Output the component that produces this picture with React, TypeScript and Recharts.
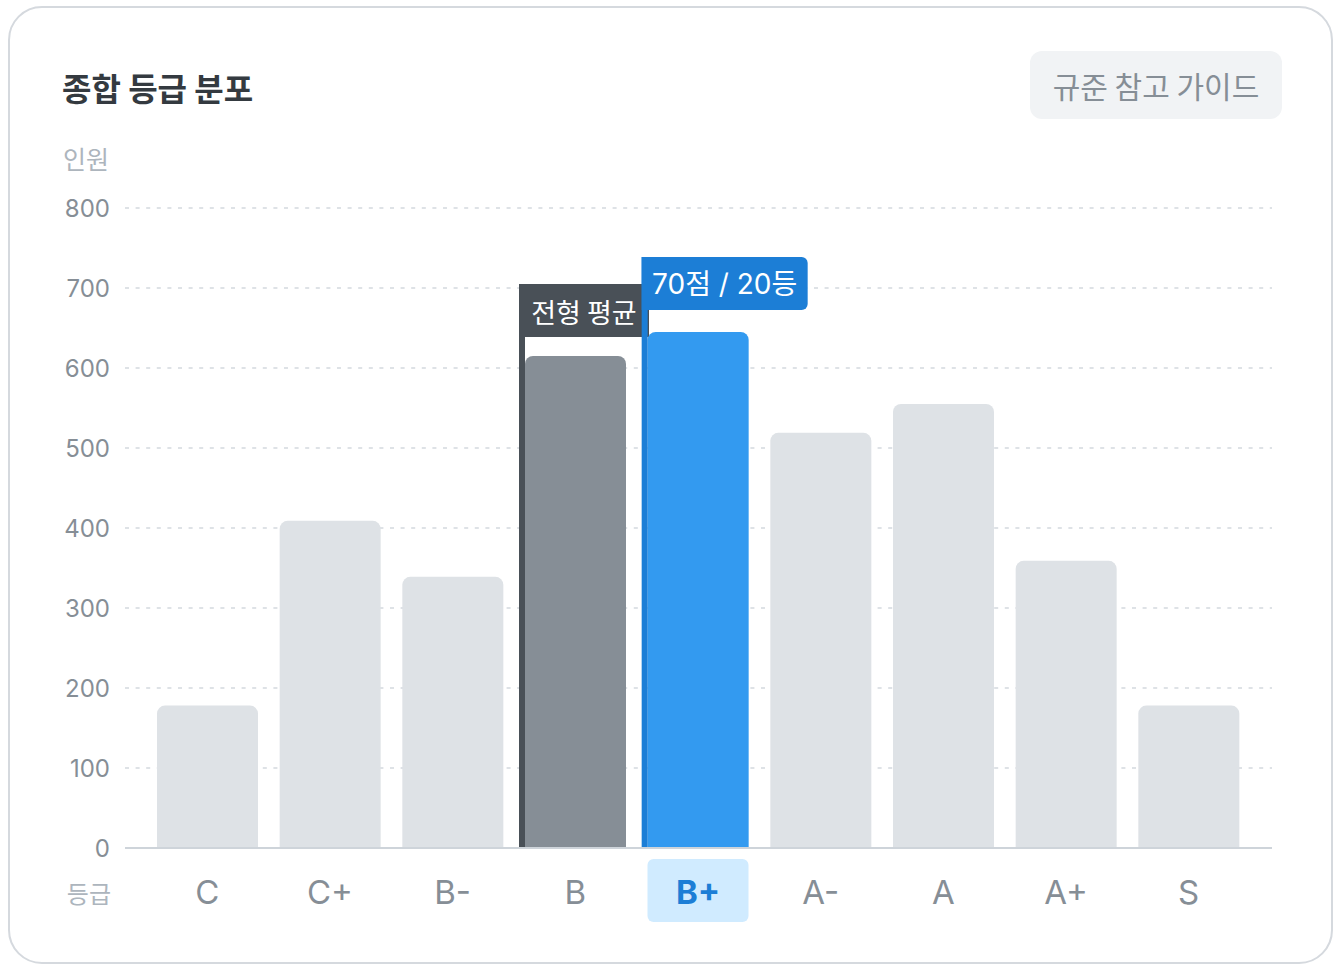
import React from 'react';
import { BarChart, Bar, XAxis, YAxis, CartesianGrid, Rectangle } from 'recharts';

const grades = ['C', 'C+', 'B-', 'B', 'B+', 'A-', 'A', 'A+', 'S'];
const counts = [178, 409, 339, 615, 645, 519, 555, 359, 178];
const yTicks = [0, 100, 200, 300, 400, 500, 600, 700, 800];
const avgGrade = 'B';
const myGrade = 'B+';
const avgLabel = '전형 평균';
const myLabel = '70점 / 20등';
const title = '종합 등급 분포';
const buttonLabel = '규준 참고 가이드';
const yAxisTitle = '인원';
const xAxisTitle = '등급';

const data = grades.map((g, i) => ({ grade: g, count: counts[i] }));

const FONT = "Inter, 'Noto Sans CJK KR', sans-serif";
const KFONT = "'Noto Sans CJK KR', Inter, sans-serif";

function BarShape(props: any) {
  const { x, y, width, height, payload } = props;
  const bottom = y + height;
  let fill = '#dee2e6';
  let marker: any = null;
  if (payload.grade === avgGrade) {
    fill = '#868e96';
    const boxBottom = y - 19;
    const boxTop = boxBottom - 53;
    marker = (
      <g>
        <rect x={x - 6} y={boxTop} width={6} height={bottom - boxTop} fill="#495057" />
        <rect x={x - 6} y={boxTop} width={130} height={53} fill="#495057" />
        <text x={x - 6 + 65} y={boxTop + 27} textAnchor="middle" dominantBaseline="central" fill="#ffffff" fontSize={27} fontFamily={KFONT}>{avgLabel}</text>
      </g>
    );
  } else if (payload.grade === myGrade) {
    fill = '#339af0';
    const boxBottom = y - 22;
    const boxTop = boxBottom - 53;
    marker = (
      <g>
        <rect x={x - 6} y={boxTop} width={6} height={bottom - boxTop} fill="#1c7ed6" />
        <Rectangle x={x - 6} y={boxTop} width={166} height={53} radius={[0, 6, 6, 0]} fill="#1c7ed6" />
        <text x={x - 6 + 83} y={boxTop + 27} textAnchor="middle" dominantBaseline="central" fill="#ffffff" fontSize={28} fontFamily={FONT}>{myLabel}</text>
      </g>
    );
  }
  return (
    <g>
      <Rectangle x={x} y={y} width={width} height={height} radius={[8, 8, 0, 0]} fill={fill} />
      {marker}
    </g>
  );
}

function XTick(props: any) {
  const { x, y, payload } = props;
  const active = payload.value === myGrade;
  return (
    <g>
      {active && <rect x={x - 50.5} y={y + 11} width={101} height={63} rx={6} fill="#d0ebff" />}
      <text x={x} y={y + 44} textAnchor="middle" dominantBaseline="central" fontSize={33}
        fontWeight={active ? 700 : 400} fill={active ? '#1c7ed6' : '#868e96'} fontFamily={FONT}>
        {payload.value}
      </text>
    </g>
  );
}

export default function App() {
  return (
    <div style={{ position: 'absolute', left: 0, top: 0, width: 1334, height: 965, background: '#ffffff' }}>
      <div style={{ position: 'absolute', left: 8, top: 6, width: 1325, height: 958, border: '2px solid #d5d9de', borderRadius: 34, boxSizing: 'border-box', background: '#fff' }} />
      <div style={{ position: 'absolute', left: 0, top: 0 }}>
        <BarChart width={1334} height={965} data={data} margin={{ top: 208, right: 62, bottom: 87, left: 0 }}>
          <CartesianGrid vertical={false} stroke="#dee2e6" strokeWidth={2} strokeDasharray="4 6.6" />
          <XAxis dataKey="grade" padding={{ left: 21, right: 22 }} axisLine={{ stroke: '#ced4da', strokeWidth: 2 }}
            tickLine={false} tickSize={0} tickMargin={0} tick={<XTick />} interval={0} height={30} />
          <YAxis domain={[0, 800]} ticks={yTicks} width={125} axisLine={false} tickLine={false} tickSize={0} tickMargin={15}
            tick={{ fill: '#868e96', fontSize: 24, fontFamily: FONT }} interval={0} />
          <Bar dataKey="count" barSize={101} isAnimationActive={false} shape={<BarShape />} />
        </BarChart>
      </div>
      <svg width={1334} height={965} style={{ position: 'absolute', left: 0, top: 0, pointerEvents: 'none' }}>
        <text x={62} y={87} dominantBaseline="central" fontSize={32} fontWeight={700} fill="#343a40" fontFamily={KFONT}>{title}</text>
        <rect x={1030} y={51} width={252} height={68} rx={12} fill="#f1f3f5" />
        <text x={1156} y={85} textAnchor="middle" dominantBaseline="central" fontSize={30} fill="#868e96" fontFamily={KFONT}>{buttonLabel}</text>
        <text x={109} y={158} textAnchor="end" dominantBaseline="central" fontSize={25} fill="#adb5bd" fontFamily={KFONT}>{yAxisTitle}</text>
        <text x={111} y={892} textAnchor="end" dominantBaseline="central" fontSize={24} fill="#adb5bd" fontFamily={KFONT}>{xAxisTitle}</text>
      </svg>
    </div>
  );
}
